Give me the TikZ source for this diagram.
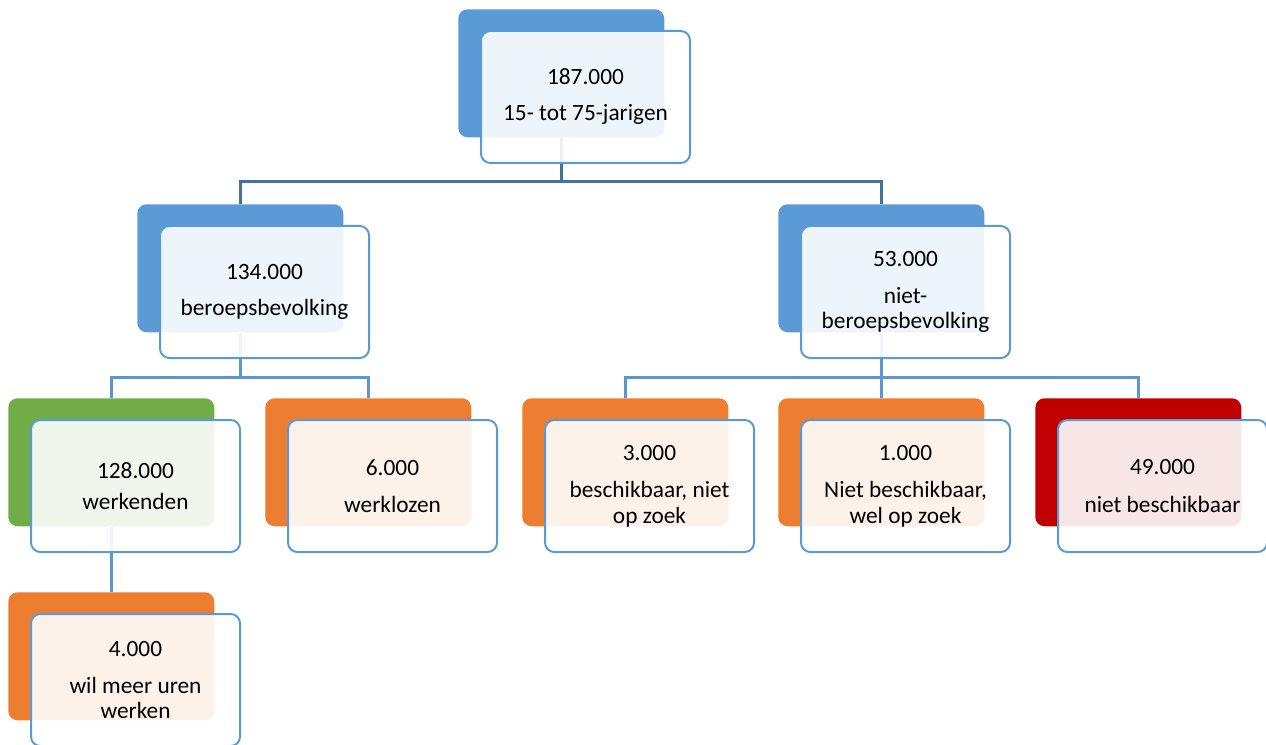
\documentclass[tikz,border=0pt]{standalone}
\usepackage{fontspec}
\setmainfont{Carlito}
\usetikzlibrary{positioning,backgrounds}
\definecolor{cBlue}{HTML}{5B9BD5}
\definecolor{cGreen}{HTML}{70AD47}
\definecolor{cOrange}{HTML}{ED7D31}
\definecolor{cRed}{HTML}{C00000}
\definecolor{cLine}{HTML}{41719C}
\definecolor{cLineB}{HTML}{5A96D0}
\tikzset{
  back/.style  ={rounded corners=7pt,minimum width=154.5pt,minimum height=96pt,
                 inner sep=0pt,anchor=north west},
  bblue/.style ={back,fill=cBlue},
  bgreen/.style={back,fill=cGreen},
  borange/.style={back,fill=cOrange},
  bred/.style  ={back,fill=cRed},
  front/.style ={rounded corners=7pt,draw=cBlue,line width=1.5pt,fill=white,
                 fill opacity=0.9,text opacity=1,minimum width=156.75pt,
                 minimum height=99pt,inner sep=0pt,align=center,
                 font=\fontsize{17.5}{19}\selectfont},
  link/.style  ={line width=2pt,cLineB},
}
\begin{document}
\begin{tikzpicture}[x=0.75pt,y=-0.75pt]
\useasboundingbox (0,0) rectangle (1266,745);

% back boxes
\node[bblue]   (top-b)  at (458,9)   {};
\node[bblue]   (lev-b)  at (137,204) {};
\node[bblue]   (niet-b) at (778,204) {};
\node[bgreen]  (werk-b) at (8,398)   {};
\node[borange] (loos-b) at (265,398) {};
\node[borange] (zoek-b) at (522,398) {};
\node[borange] (wel-b)  at (778,398) {};
\node[bred]    (nb-b)   at (1035,398) {};
\node[borange] (meer-b) at (8,592)   {};

% connectors
\begin{scope}[on background layer]
\draw[link,cLine] (top-b.south) -- ++(0,-33pt) -| (lev-b.north);
\draw[link,cLine] (top-b.south) -- ++(0,-33pt) -| (niet-b.north);
\draw[link] (lev-b.south) -- ++(0,-33.75pt) -| (werk-b.north);
\draw[link] (lev-b.south) -- ++(0,-33.75pt) -| (loos-b.north);
\draw[link] (niet-b.south) -- ++(0,-33.75pt) -| (zoek-b.north);
\draw[link] (niet-b.south) -- (wel-b.north);
\draw[link] (niet-b.south) -- ++(0,-33.75pt) -| (nb-b.north);
\draw[link] (werk-b.south) -- (meer-b.north);
\end{scope}

% front boxes with the texts
\node[front,below right=15.75pt and 16.5pt of top-b.north west] (top)
  {187.000\\[8pt]15- tot 75-jarigen};
\node[front,below right=15.75pt and 16.5pt of lev-b.north west] (lev)
  {134.000\\[8.5pt]beroepsbevolking};
\node[front,below right=15.75pt and 16.5pt of niet-b.north west] (niet)
  {53.000\\[8.5pt]niet-\\beroepsbevolking};
\node[front,below right=15.75pt and 16.5pt of werk-b.north west] (werk)
  {128.000\\[4pt]werkenden};
\node[front,below right=15.75pt and 16.5pt of loos-b.north west] (loos)
  {6.000\\[9pt]werklozen};
\node[front,below right=15.75pt and 16.5pt of zoek-b.north west] (zoek)
  {3.000\\[9pt]beschikbaar, niet\\op zoek};
\node[front,below right=15.75pt and 16.5pt of wel-b.north west] (wel)
  {1.000\\[9pt]Niet beschikbaar,\\wel op zoek};
\node[front,below right=15.75pt and 16.5pt of nb-b.north west] (nb)
  {49.000\\[9pt]niet beschikbaar};
\node[front,below right=15.75pt and 16.5pt of meer-b.north west] (meer)
  {4.000\\[9pt]wil meer uren\\werken};
\end{tikzpicture}
\end{document}
